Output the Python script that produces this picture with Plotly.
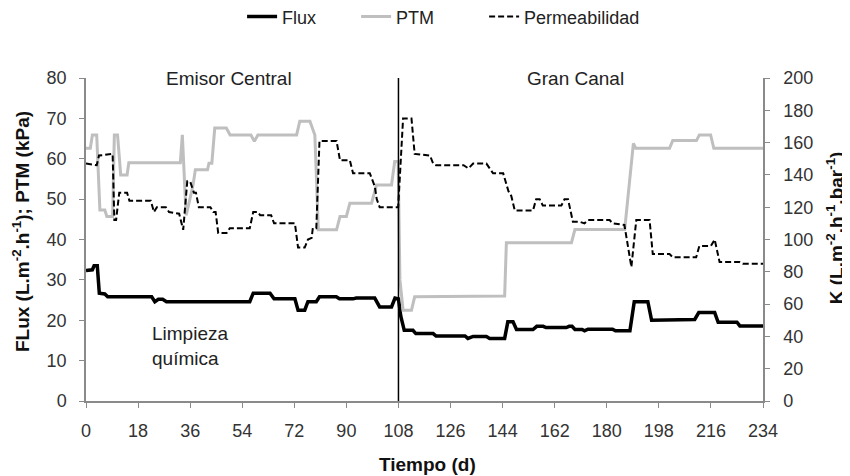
import plotly.graph_objects as go

# ---------------- data ----------------
flux_days = [0, 2.2, 2.8, 3.9, 4.6, 6.5, 7.5, 22.7, 23.8, 25.0, 26.5, 27.8, 56.6, 57.8, 63.6,
             65.0, 72.2, 73.3, 75.6, 76.7, 79.6, 80.7, 86.5, 87.6, 92.3, 93.4, 99.8, 101.5,
             105.6, 106.8, 108, 108.8, 110, 113, 114, 120, 121, 131, 132, 133.8, 138.4, 139.5,
             144.7, 145.8, 147.6, 148.8, 154.5, 155.8, 158, 159, 166, 167, 168, 169, 171.5,
             172.3, 173.5, 182, 183, 188, 189.5, 194.2, 195.5, 201.7, 202.8, 210.4, 211.8,
             217.3, 218.5, 225, 226, 234]
flux_values = [32.3, 32.5, 33.5, 33.5, 26.7, 26.5, 25.8, 25.8, 24.6, 25.2, 25.2, 24.6, 24.6, 26.7,
               26.7, 25.3, 25.3, 22.5, 22.5, 24.6, 24.6, 25.8, 25.8, 25.3, 25.3, 25.5, 25.5,
               23.3, 23.3, 25.5, 25.3, 21.0, 17.5, 17.5, 16.7, 16.7, 16.1, 16.1, 15.5, 16.0,
               16.0, 15.5, 15.5, 19.6, 19.6, 17.7, 17.7, 18.5, 18.5, 18.2, 18.2, 18.5, 18.5,
               17.7, 17.7, 17.4, 17.8, 17.8, 17.4, 17.4, 24.6, 24.6, 20.0, 20.0, 20.2, 20.2,
               21.9, 21.9, 19.5, 19.5, 18.6, 18.6]

ptm_days = [0, 1.5, 2.2, 3.7, 4.8, 6.5, 7.2, 9.2, 9.8, 10.9, 12.0, 14.2, 14.8, 32.6, 33.3, 34.6,
            35.6, 37.0, 37.8, 42.0, 42.5, 43.5, 44.5, 48.5, 49.8, 57.0, 58.2, 59.4, 72.8, 73.9,
            77.4, 79.1, 80.3, 86.6, 87.8, 90.0, 91.2, 98.7, 100.4, 105.6, 106.7, 107.9, 108.5,
            109.6, 112.5, 113.6, 144.7, 145.3, 167.8, 169.0, 186.2, 187.5, 189.2, 190.0, 201.7,
            202.8, 211.0, 212.0, 215.9, 217.0, 234]
ptm_values = [62.6, 62.6, 65.9, 65.9, 47.3, 47.3, 45.7, 45.7, 65.9, 65.9, 56.0, 56.0, 59.0, 59.0,
              65.9, 46.0, 49.0, 53.5, 57.3, 57.3, 58.9, 58.9, 67.6, 67.6, 65.9, 65.9, 64.3, 65.9,
              65.9, 69.3, 69.3, 65.9, 42.4, 42.4, 45.7, 45.7, 49.0, 49.0, 53.5, 53.5, 59.3, 59.3,
              30.0, 22.5, 22.5, 25.8, 26.0, 39.2, 39.2, 42.5, 42.5, 52.0, 63.8, 62.6, 62.6, 64.5,
              64.5, 65.9, 65.9, 62.6, 62.6]

perm_days = [0, 3.7, 4.5, 9.2, 9.8, 10.4, 11.5, 12.0, 14.2, 15.0, 22.4, 23.5, 24.5, 27.6, 28.7,
             32.2, 33.6, 35.0, 36.0, 37.3, 38.0, 39.0, 43.0, 44.0, 44.8, 45.7, 48.6, 49.7, 56.6,
             57.8, 59.4, 60.2, 64.0, 65.0, 72.2, 73.3, 75.6, 76.7, 78.0, 78.4, 79.6, 80.7, 86.6,
             87.8, 91.2, 92.3, 98.1, 99.8, 100.5, 101.5, 107.9, 109.6, 112.5, 113.6, 118.9, 120.0,
             121.0, 130.5, 132.2, 133.8, 138.4, 140.7, 144.2, 146.0, 147.0, 148.2, 154.5, 155.6,
             156.8, 157.9, 164.3, 165.4, 166.6, 168.3, 170.6, 172.3, 173.5, 181.0, 182.0, 186.1,
             188.5, 190.2, 194.8, 195.9, 201.7, 202.8, 210.9, 212.0, 216.0, 217.3, 219.0, 225.9,
             227.0, 234]
perm_values = [147, 146, 152, 153, 112, 112, 129, 129, 129, 124, 124, 117, 120, 120, 117,
               116, 106, 136, 136, 129, 129, 120, 120, 117, 117, 104, 104, 107, 107,
               117, 117, 115, 115, 110, 110, 95, 95, 100, 101, 107, 107, 161, 161,
               149, 149, 141, 141, 133, 125, 120, 120, 175, 175, 153, 152, 147,
               146, 146, 144, 147, 147, 141, 141, 130, 127, 118, 118, 125,
               125, 121, 121, 125, 125, 111, 111, 110, 112, 112, 110, 109,
               83, 112, 112, 91, 91, 89, 89, 96, 96, 100, 86, 86,
               85, 85]

cleaning_day = 108
x_ticks = [0, 18, 36, 54, 72, 90, 108, 126, 144, 162, 180, 198, 216, 234]

FONT = "Liberation Sans, Arial, sans-serif"
AXIS_GREY = "#8a8a8a"
TEXT = "#222222"
TICK_FONT = dict(family=FONT, size=18, color="#333333")
NB = "\u00a0"

fig = go.Figure()
fig.add_trace(go.Scatter(x=flux_days, y=flux_values, name="Flux" + NB * 7, mode="lines",
                         line=dict(color="black", width=3.5)))
fig.add_trace(go.Scatter(x=ptm_days, y=ptm_values, name="PTM" + NB * 9, mode="lines",
                         line=dict(color="#bfbfbf", width=3)))
fig.add_trace(go.Scatter(x=perm_days, y=perm_values, name="Permeabilidad", mode="lines",
                         yaxis="y2", line=dict(color="black", width=2, dash="6px,3px")))

fig.add_shape(type="line", xref="x", yref="y", x0=cleaning_day, x1=cleaning_day, y0=0, y1=80,
              line=dict(color="black", width=1.5))

# in-plot labels
fig.add_annotation(x=49.4, y=79.8, xref="x", yref="y", text="Emisor Central", showarrow=False,
                   font=dict(family=FONT, size=19, color=TEXT))
fig.add_annotation(x=169.3, y=79.8, xref="x", yref="y", text="Gran Canal", showarrow=False,
                   font=dict(family=FONT, size=19, color=TEXT))
fig.add_annotation(x=22, y=13.6, xref="x", yref="y", text="Limpieza<br>química",
                   showarrow=False, xanchor="left", align="left",
                   font=dict(family=FONT, size=19, color=TEXT))

# axis titles
TITLE_FONT = dict(family=FONT, size=19, color="#111111")
fig.add_annotation(x=-0.096, y=0.523, xref="paper", yref="paper", textangle=-90,
                   xanchor="center", yanchor="middle",
                   text="<b>FLux (L.m<sup>-2</sup>.h<sup>-1</sup>); PTM (kPa)</b>",
                   showarrow=False, font=TITLE_FONT)
fig.add_annotation(x=1.1068, y=0.5356, xref="paper", yref="paper", textangle=-90,
                   xanchor="center", yanchor="middle",
                   text="<b>K (L.m<sup>-2</sup>.h<sup>-1</sup>.bar<sup>-1</sup>)</b>",
                   showarrow=False, font=TITLE_FONT)
fig.add_annotation(x=0.5037, y=-0.198, xref="paper", yref="paper",
                   xanchor="center", yanchor="middle",
                   text="<b>Tiempo (d)</b>", showarrow=False, font=TITLE_FONT)

fig.update_layout(
    width=842, height=468,
    margin=dict(l=78, r=87, t=70, b=75),
    paper_bgcolor="white", plot_bgcolor="white",
    font=dict(family=FONT, color=TEXT),
    showlegend=True,
    legend=dict(orientation="h", xref="container", yref="container",
                x=0.278, xanchor="left", y=0.981, yanchor="middle",
                font=dict(family=FONT, size=18, color=TEXT),
                bgcolor="rgba(0,0,0,0)"),
    xaxis=dict(range=[0, 234], tickvals=x_ticks, showgrid=False, zeroline=False,
               showline=True, linecolor=AXIS_GREY, linewidth=1.5, automargin=False,
               ticks="outside", ticklen=5, tickcolor=AXIS_GREY, tickfont=TICK_FONT,
               ticklabelstandoff=8),
    yaxis=dict(range=[0, 80], dtick=10, showgrid=False, zeroline=False,
               showline=True, linecolor=AXIS_GREY, linewidth=1.5, automargin=False,
               ticks="outside", ticklen=5, tickcolor=AXIS_GREY, tickfont=TICK_FONT,
               ticklabelstandoff=9),
    yaxis2=dict(range=[0, 200], dtick=20, overlaying="y", side="right", showgrid=False,
                zeroline=False, showline=True, linecolor=AXIS_GREY, linewidth=1.5,
                automargin=False, ticks="outside", ticklen=5, tickcolor=AXIS_GREY,
                tickfont=TICK_FONT, ticklabelstandoff=10),
)

fig.write_html("out.html")
